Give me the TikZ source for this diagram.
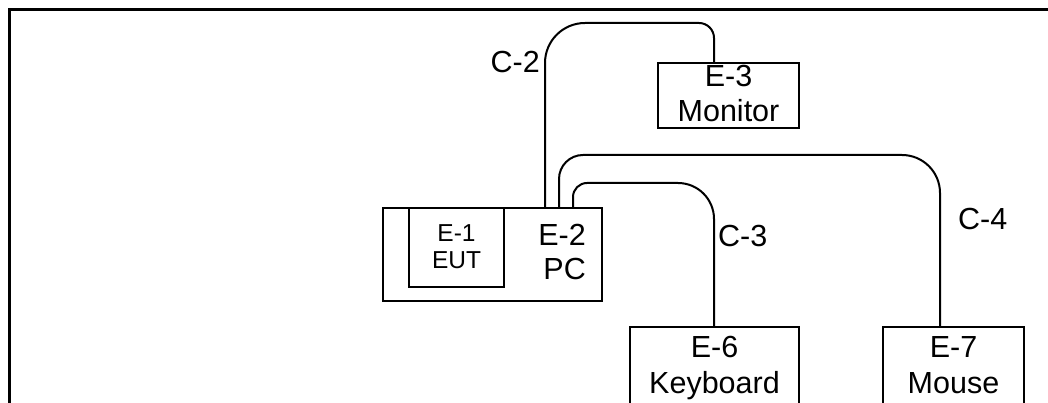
\documentclass[tikz,border=0pt]{standalone}
\usepackage{fontspec}
\setmainfont{Liberation Sans}
\newcommand{\bigtxt}{\fontsize{30.5}{36}\selectfont}
\newcommand{\smalltxt}{\fontsize{24.5}{29}\selectfont}
\tikzset{
  box/.style={draw, line width=2pt, inner sep=0pt, fill=white},
  cable/.style={line width=2pt, line cap=butt},
  big/.style={font=\bigtxt, inner sep=0pt},
  small/.style={font=\smalltxt, inner sep=0pt}
}
\begin{document}
\begin{tikzpicture}[x=1pt,y=1pt]
\useasboundingbox (0,0) rectangle (1048,403);
\clip (0,0) rectangle (1048,403);
% outer frame
\draw[line width=3pt] (9,-30) -- (9,393) -- (1080,393);

% equipment boxes
\node[box, minimum width=219pt, minimum height=93pt] (pc) at (492.5,148.5) {};
\node[box, minimum width=95pt, minimum height=79pt] (eut) at (456.5,155.5) {};
\node[box, minimum width=141pt, minimum height=65pt] (mon) at (728.5,307.5) {};
\node[box, minimum width=169pt, minimum height=110pt] (kbd) at (714.5,21) {};
\node[box, minimum width=141pt, minimum height=110pt] (mouse) at (953.5,21) {};

% box texts
\node[small, anchor=base] (eutA) at (456.5,161) {E-1};
\node[small, anchor=base] (eutB) at (456.5,134) {EUT};
\node[big, anchor=base east] (pcA) at (586,157) {E-2};
\node[big, anchor=base east] (pcB) at (586,123) {PC};
\node[big, anchor=base] (monA) at (728.5,316) {E-3};
\node[big, anchor=base] (monB) at (728.5,281) {Monitor};
\node[big, anchor=base] (kbdA) at (714.5,45) {E-6};
\node[big, anchor=base] (kbdB) at (714.5,9) {Keyboard};
\node[big, anchor=base] (mouseA) at (953.5,45) {E-7};
\node[big, anchor=base] (mouseB) at (953.5,9) {Mouse};

% cables
\draw[cable] ([xshift=52.5pt]pc.north) -- (545,340)
  arc[start angle=180, end angle=90, radius=40pt] -- (699,380)
  arc[start angle=90, end angle=0, radius=15pt] -- ([xshift=-14.5pt]mon.north);
\draw[cable] ([xshift=66.5pt]pc.north) -- (559,224)
  arc[start angle=180, end angle=90, radius=24pt] -- (902,248)
  arc[start angle=90, end angle=0, radius=38pt] -- ([xshift=-13.5pt]mouse.north);
\draw[cable] ([xshift=80.5pt]pc.north) -- (573,206)
  arc[start angle=180, end angle=90, radius=14pt] -- (678,220)
  arc[start angle=90, end angle=0, radius=36pt] -- ([xshift=-0.5pt]kbd.north);

% cable labels
\node[big, anchor=base east] (c2) at (540,330) {C-2};
\node[big, anchor=base west] (c3) at (718,156) {C-3};
\node[big, anchor=base west] (c4) at (958,173) {C-4};
\end{tikzpicture}
\end{document}
